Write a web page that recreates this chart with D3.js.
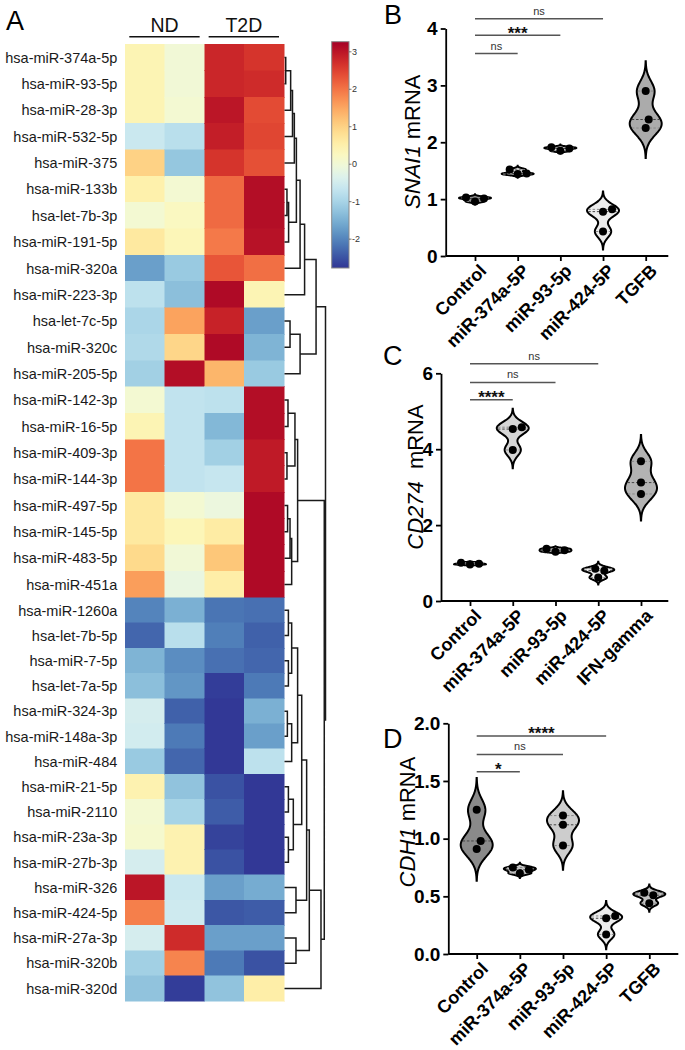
<!DOCTYPE html>
<html><head><meta charset="utf-8">
<script src="https://cdn.jsdelivr.net/npm/d3@7"></script>
<style>body{margin:0;background:#fff}svg{display:block}</style>
</head><body><svg id="c" width="685" height="1050"></svg>
<script>
// ---------------- DATA ----------------
const heatRows = ["hsa-miR-374a-5p","hsa-miR-93-5p","hsa-miR-28-3p","hsa-miR-532-5p","hsa-miR-375","hsa-miR-133b","hsa-let-7b-3p","hsa-miR-191-5p","hsa-miR-320a","hsa-miR-223-3p","hsa-let-7c-5p","hsa-miR-320c","hsa-miR-205-5p","hsa-miR-142-3p","hsa-miR-16-5p","hsa-miR-409-3p","hsa-miR-144-3p","hsa-miR-497-5p","hsa-miR-145-5p","hsa-miR-483-5p","hsa-miR-451a","hsa-miR-1260a","hsa-let-7b-5p","hsa-miR-7-5p","hsa-let-7a-5p","hsa-miR-324-3p","hsa-miR-148a-3p","hsa-miR-484","hsa-miR-21-5p","hsa-miR-2110","hsa-miR-23a-3p","hsa-miR-27b-3p","hsa-miR-326","hsa-miR-424-5p","hsa-miR-27a-3p","hsa-miR-320b","hsa-miR-320d"];
const ndSample1  = [0.4,0.4,0.4,-0.6,1.0,0.5,0.05,0.65,-1.7,-0.75,-0.95,-0.9,-1.05,0.05,0.4,2.0,2.0,0.65,0.65,0.9,1.6,-2.0,-2.3,-1.45,-1.3,-0.45,-0.5,-1.15,0.45,0.05,0.1,-0.45,3.0,1.9,-0.45,-1.05,-1.25];
const ndSample2  = [0.0,0.0,0.05,-0.8,-1.2,0.05,0.25,0.35,-1.15,-1.3,1.55,0.95,3.1,-0.7,-0.7,-0.7,-0.7,0.05,0.35,0.0,-0.15,-1.5,-0.8,-1.9,-1.8,-2.35,-2.1,-2.3,-1.25,-1.0,0.45,0.45,-0.6,-0.55,2.75,1.85,-2.7];
const t2dSample1 = [2.8,2.8,3.0,2.9,2.65,2.1,2.1,1.95,2.3,3.15,2.85,3.15,1.35,-0.75,-1.4,-1.05,-0.65,-0.1,0.6,1.15,0.55,-2.15,-2.05,-2.2,-2.7,-2.75,-2.75,-2.75,-2.5,-2.4,-2.65,-2.5,-1.7,-2.45,-1.7,-2.1,-1.25];
const t2dSample2 = [2.65,2.75,2.4,2.45,2.35,3.1,3.1,3.05,2.05,0.4,-1.7,-1.45,-1.15,3.1,3.1,2.95,2.95,3.15,3.15,3.15,3.15,-2.2,-2.35,-2.3,-2.1,-1.5,-1.7,-0.75,-2.75,-2.75,-2.75,-2.75,-1.55,-2.4,-1.7,-2.5,0.55];
const heatGroups = ["ND","T2D"];
const colorbarTicks = [3,2,1,0,-1,-2];
const colorDomain = [-2.77, 3.27];
// hclust-style merges: negative = leaf (row index+1), positive = earlier merge (1-based); third = height
const dendroMerges = [[-1,-2,0.3],[1,-3,1.5],[2,-4,1.95],[3,-5,2.4],[-6,-7,0.6],[5,-8,1.0],[4,6,2.9],[7,-9,3.8],[8,-10,4.9],
 [-11,-12,1.35],[10,-13,3.8],[9,11,7.7],[-14,-15,0.85],[-16,-17,0.6],[13,14,2.55],[-18,-19,0.75],[16,-20,1.35],[17,-21,1.75],
 [15,18,3.2],[-22,-23,0.95],[-24,-25,0.95],[20,21,1.75],[-26,-27,0.7],[23,-28,1.75],[22,24,3.2],[-29,-30,0.95],[-31,-32,0.95],
 [26,27,2.15],[25,28,4.2],[-33,-34,2.8],[29,30,5.4],[-35,-36,2.8],[31,32,6.05],[33,-37,8.9],[19,34,9.7],[12,35,10]];

const categoriesB = ["Control","miR-374a-5P","miR-93-5p","miR-424-5P","TGFB"];
const snai1Values = [[0.96,1.01,1.03],[1.44,1.45,1.52],[1.85,1.89,1.91],[0.43,0.78,0.82],[2.25,2.4,2.9]];
const snai1Sig = [[0,3,4.17,"ns"],[0,2,3.88,"***"],[0,1,3.56,"ns"]];
const snai1Ticks = [0,1,2,3,4];

const categoriesC = ["Control","miR-374a-5P","miR-93-5p","miR-424-5P","IFN-gamma"];
const cd274Values = [[0.96,0.98,1.01],[3.98,4.53,4.58],[1.3,1.34,1.38],[0.62,0.8,0.85],[2.82,3.12,3.68]];
const cd274Sig = [[0,3,6.25,"ns"],[0,2,5.76,"ns"],[0,1,5.3,"****"]];
const cd274Ticks = [0,2,4,6];

const categoriesD = ["Control","miR-374a-5P","miR-93-5p","miR-424-5P","TGFB"];
const cdh1Values = [[0.91,0.98,1.25],[0.70,0.73,0.75],[0.94,1.12,1.2],[0.17,0.31,0.33],[0.44,0.51,0.53]];
const cdh1Sig = [[0,3,1.89,"****"],[0,2,1.73,"ns"],[0,1,1.58,"*"]];
const cdh1Ticks = [0,0.5,1,1.5,2];

// ---------------- DRAW ----------------
const FONT = '"Liberation Sans", Arial, Helvetica, sans-serif';
const svg = d3.select("#c").style("font-family", FONT);

// ===== Panel A: heatmap =====
const heatCols = [ndSample1, ndSample2, t2dSample1, t2dSample2];
const xCol = d3.scaleBand().domain(d3.range(heatCols.length)).range([125.3, 284]);
const yRow = d3.scaleLinear().domain([0, 21, heatRows.length]).range([44.3, 597.7, 1001]);
const color = d3.scaleSequential(t => d3.interpolateRdYlBu(1 - t)).domain(colorDomain);
const rowMid = i => (yRow(i) + yRow(i + 1)) / 2;

svg.append("text").attr("x", 6).attr("y", 29.5).attr("font-size", 27).text("A");

const gH = svg.append("g").attr("shape-rendering", "crispEdges");
heatCols.forEach((col, c) => {
  gH.selectAll(null).data(col).join("rect")
    .attr("x", xCol(c)).attr("y", (d, i) => yRow(i))
    .attr("width", xCol.bandwidth()).attr("height", (d, i) => yRow(i + 1) - yRow(i))
    .attr("fill", d => color(d)).attr("stroke", d => color(d)).attr("stroke-width", 0.5);
});
svg.append("g").selectAll("text").data(heatRows).join("text")
  .attr("x", 117.3).attr("y", (d, i) => rowMid(i)).attr("dy", "0.36em")
  .attr("text-anchor", "end").attr("font-size", 14.5).attr("fill", "#1a1a1a").text(d => d);

heatGroups.forEach((g, k) => {
  const x0 = xCol(2 * k) + 4, x1 = xCol(2 * k + 1) + xCol.bandwidth() - 5;
  svg.append("line").attr("x1", x0).attr("x2", x1).attr("y1", 36.7).attr("y2", 36.7)
    .attr("stroke", "#111").attr("stroke-width", 1.6);
  svg.append("text").attr("x", (x0 + x1) / 2).attr("y", 31.5).attr("text-anchor", "middle")
    .attr("font-size", 19.5).attr("fill", "#111").text(g);
});

// colorbar
const cbY = d3.scaleLinear().domain(colorDomain).range([268, 41.7]);
const grad = svg.append("defs").append("linearGradient").attr("id", "cbg")
  .attr("x1", 0).attr("x2", 0).attr("y1", 1).attr("y2", 0);
d3.range(0, 1.0001, 0.05).forEach(t => {
  grad.append("stop").attr("offset", t).attr("stop-color", color(colorDomain[0] + t * (colorDomain[1] - colorDomain[0])));
});
svg.append("rect").attr("x", 331.7).attr("y", cbY(colorDomain[1])).attr("width", 17.3)
  .attr("height", cbY(colorDomain[0]) - cbY(colorDomain[1])).attr("fill", "url(#cbg)")
  .attr("stroke", "#8a8a8a").attr("stroke-width", 1);
const cbT = svg.append("g").selectAll("g").data(colorbarTicks).join("g")
  .attr("transform", d => `translate(349,${cbY(d)})`);
cbT.append("line").attr("x1", 0).attr("x2", 2.5).attr("stroke", "#555").attr("stroke-width", 0.8);
cbT.append("text").attr("x", 3).attr("dy", "0.35em").attr("font-size", 9).attr("fill", "#333").text(d => d);

// dendrogram
const xD = d3.scaleLinear().domain([0, 10]).range([284.5, 325.5]);
const mPos = [], mH = [];
const nodePos = id => id < 0 ? rowMid(-id - 1) : mPos[id - 1];
const nodeH = id => id < 0 ? 0 : mH[id - 1];
const dPath = d3.path();
dendroMerges.forEach(([a, b, h], k) => {
  const ya = nodePos(a), yb = nodePos(b);
  dPath.moveTo(xD(nodeH(a)), ya); dPath.lineTo(xD(h), ya);
  dPath.lineTo(xD(h), yb); dPath.lineTo(xD(nodeH(b)), yb);
  mPos[k] = (ya + yb) / 2; mH[k] = h;
});
svg.append("path").attr("d", dPath.toString()).attr("fill", "none")
  .attr("stroke", "#1a1a1a").attr("stroke-width", 1.5);

// ===== Violin panels =====
function kde(vals) {
  const s = [...vals].sort((a, b) => a - b), n = s.length;
  const sd = d3.deviation(s), iqr = d3.quantile(s, 0.75) - d3.quantile(s, 0.25);
  const h = 0.9 * Math.min(sd, iqr / 1.34) * Math.pow(n, -0.2);
  const dens = v => d3.sum(s, x => Math.exp(-0.5 * ((v - x) / h) ** 2));
  const lo = s[0] - 3 * h, hi = s[n - 1] + 3 * h;
  const pts = d3.range(121).map(i => { const v = lo + (hi - lo) * i / 120; return { v, d: dens(v) }; });
  return { pts, dens, max: d3.max(pts, p => p.d), s };
}

function panel(o) {
  const g = svg.append("g");
  const y = d3.scaleLinear().domain([0, d3.max(o.ticks)]).range(o.yRange);
  const x = d3.scalePoint().domain(o.cats).range(o.xRange);
  const y0 = y(0);

  g.append("text").attr("x", o.label[1]).attr("y", o.label[2]).attr("font-size", 27).text(o.label[0]);

  // y axis
  const ya = g.append("g").attr("transform", `translate(${o.axisX[0]},0)`)
    .call(d3.axisLeft(y).tickValues(o.ticks).tickFormat(o.fmt).tickSize(5).tickSizeOuter(0).tickPadding(3));
  ya.selectAll("path,line").attr("stroke", "#000").attr("stroke-width", 1.8);
  ya.selectAll("text").attr("font-size", o.tickFont).attr("font-weight", "bold").attr("fill", "#000")
    .attr("font-family", FONT);

  // x axis
  const xa = g.append("g").attr("transform", `translate(0,${y0})`)
    .call(d3.axisBottom(x).tickSize(5).tickSizeOuter(0));
  xa.select(".domain").attr("d", `M${o.axisX[0]},0H${o.axisX[1]}`);
  xa.selectAll("path,line").attr("stroke", "#000").attr("stroke-width", 1.8);
  xa.selectAll("text").attr("x", 0).attr("y", 0).attr("dy", 0)
    .attr("text-anchor", "end").attr("transform", "translate(12,16) rotate(-45)")
    .attr("font-size", 18).attr("font-weight", "bold").attr("fill", "#000").attr("font-family", FONT);

  // title
  const t = g.append("text").attr("transform", `translate(${o.title[2]},${o.title[3]}) rotate(-90)`)
    .attr("text-anchor", "middle").attr("font-size", 22);
  t.append("tspan").attr("font-style", "italic").text(o.title[0]);
  t.append("tspan").attr("dx", o.title[4]).text(o.title[1]);

  // violins
  const W = 16, r = 4;
  o.vals.forEach((vals, i) => {
    const cx = x(o.cats[i]);
    const k = kde(vals);
    const wOf = v => k.dens(v) / k.max * W;
    const area = d3.area().curve(d3.curveBasis)
      .y(p => y(p.v)).x0(p => cx - p.d / k.max * W).x1(p => cx + p.d / k.max * W);
    g.append("path").attr("d", area(k.pts)).attr("fill", o.fills[i])
      .attr("stroke", "#000").attr("stroke-width", 2);
    const qs = [k.s[0], d3.median(k.s), k.s[k.s.length - 1]];
    qs.forEach((q, j) => {
      const w = wOf(q) - 1;
      g.append("line").attr("x1", cx - w).attr("x2", cx + w).attr("y1", y(q)).attr("y2", y(q))
        .attr("stroke", j === 1 ? "#444" : "#888").attr("stroke-width", 1).attr("stroke-dasharray", "2.5,1.8");
    });
    // beeswarm dots
    const placed = [];
    [...vals].sort((a, b) => a - b).forEach(v => {
      const py = y(v);
      let off = 0;
      for (let s = 0; s < 40; s++) {
        const cand = s === 0 ? 0 : (s % 2 ? Math.ceil(s / 2) : -s / 2);
        if (placed.every(p => Math.hypot(p[0] - cand, p[1] - py) >= 2 * r + 1)) { off = cand; break; }
      }
      placed.push([off, py]);
    });
    g.selectAll(null).data(placed).join("circle")
      .attr("cx", p => cx + p[0]).attr("cy", p => p[1]).attr("r", r).attr("fill", "#000");
  });

  // significance bars
  o.sig.forEach(([a, b, lev, lab]) => {
    const x1 = x(o.cats[a]), x2 = x(o.cats[b]), ly = y(lev);
    g.append("line").attr("x1", x1).attr("x2", x2).attr("y1", ly).attr("y2", ly)
      .attr("stroke", "#555").attr("stroke-width", 1.5);
    const ns = lab === "ns";
    g.append("text").attr("x", (x1 + x2) / 2).attr("y", ns ? ly - 4 : ly + 3.5)
      .attr("text-anchor", "middle").attr("font-size", ns ? 11 : 17)
      .attr("font-weight", ns ? "normal" : "bold").attr("fill", ns ? "#333" : "#111").text(lab);
  });
}

panel({ label: ["B", 384, 24], cats: categoriesB, vals: snai1Values, sig: snai1Sig, ticks: snai1Ticks,
  fmt: d3.format("d"), yRange: [256, 28.5], xRange: [475, 645.7], axisX: [445.7, 668.3], tickFont: 19,
  title: ["SNAI1", " mRNA", 420, 141.7, 0], fills: ["#8f8f8f", "#cdcdcd", "#d8d8d8", "#ececec", "#ababab"] });
panel({ label: ["C", 383, 365], cats: categoriesC, vals: cd274Values, sig: cd274Sig, ticks: cd274Ticks,
  fmt: d3.format("d"), yRange: [601, 373.3], xRange: [470, 641], axisX: [441, 668.3], tickFont: 19,
  title: ["CD274", " mRNA", 423, 477, 6], fills: ["#8f8f8f", "#d6d6d6", "#cfcfcf", "#ececec", "#b3b3b3"] });
panel({ label: ["D", 383, 748], cats: categoriesD, vals: cdh1Values, sig: cdh1Sig, ticks: cdh1Ticks,
  fmt: d3.format(".1f"), yRange: [954, 723.3], xRange: [476.7, 649.3], axisX: [448.3, 678.3], tickFont: 19,
  title: ["CDH1", " mRNA", 415, 822, 0], fills: ["#8a8a8a", "#c4c4c4", "#cdcdcd", "#ececec", "#c2c2c2"] });
</script></body></html>
